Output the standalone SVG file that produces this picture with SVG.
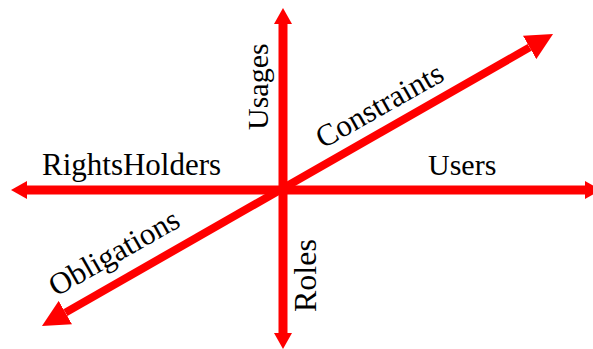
<svg xmlns="http://www.w3.org/2000/svg" width="593" height="349" viewBox="0 0 593 349">
<style>
.ax{stroke:#ff0000;stroke-width:9;fill:none}
.dg{stroke:#ff0000;stroke-width:8;fill:none}
text{font-family:"Liberation Serif","Times New Roman",serif;font-size:30px;fill:#000}
.diag{font-size:31px}
</style>
<defs>
<marker id="ah" markerUnits="userSpaceOnUse" viewBox="0 0 16 18" refX="0" refY="9" markerWidth="16" markerHeight="18" orient="auto-start-reverse">
<path d="M0,0 L16,9 L0,18 Z" fill="#ff0000"/>
</marker>
<marker id="dh" markerUnits="userSpaceOnUse" viewBox="0 0 27 27" refX="0" refY="13.5" markerWidth="27" markerHeight="27" orient="auto-start-reverse">
<path d="M0,0 L27,13.5 L0,27 Z" fill="#ff0000"/>
</marker>
</defs>
<g id="connectors">
<line class="ax" x1="27" y1="190" x2="585" y2="190" marker-start="url(#ah)" marker-end="url(#ah)"/>
<line class="ax" x1="283" y1="24" x2="283" y2="333" marker-start="url(#ah)" marker-end="url(#ah)"/>
<line class="dg" x1="65.4" y1="312.6" x2="529.6" y2="47.4" marker-start="url(#dh)" marker-end="url(#dh)"/>
</g>
<g id="RightsHolders"><text x="42" y="175" style="font-size:31px">RightsHolders</text></g>
<g id="Users"><text x="428" y="175">Users</text></g>
<g id="Usages"><text transform="translate(268,130) rotate(-90)">Usages</text></g>
<g id="Roles"><text transform="translate(316,312) rotate(-90)" style="font-size:32px">Roles</text></g>
<g id="Constraints"><text class="diag" transform="translate(323,149) rotate(-29.5)">Constraints</text></g>
<g id="Obligations"><text class="diag" transform="translate(56,297) rotate(-29.5)">Obligations</text></g>
</svg>
